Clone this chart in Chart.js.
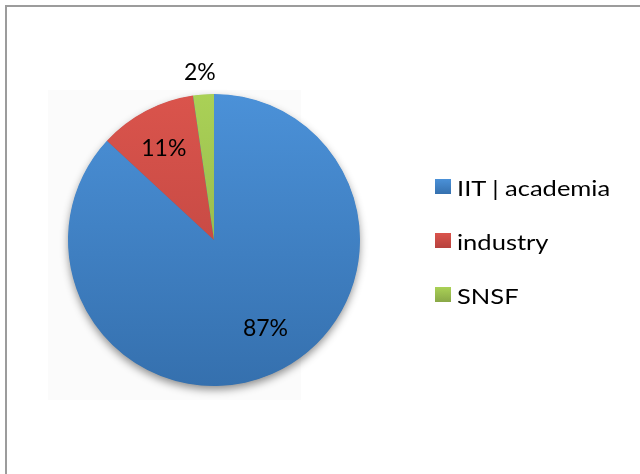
<!DOCTYPE html>
<html>
<head>
<meta charset="utf-8">
<script src="https://cdn.jsdelivr.net/npm/chart.js@4/dist/chart.umd.min.js"></script>
<style>
  html, body { margin:0; padding:0; background:#fff; }
  #wrap { position:relative; width:640px; height:474px; overflow:hidden; background:#fff; }
  #frame { position:absolute; left:5px; top:5px; width:700px; height:600px; border:2px solid #9c9c9c; box-sizing:border-box; }
  #plotbg { position:absolute; left:48px; top:90px; width:253px; height:310px; background:#fbfbfb; }
  canvas { position:absolute; left:0; top:0; }
  #legend { position:absolute; left:435px; top:0; font-family:Lato, "Open Sans", sans-serif; font-size:22px; color:#000; }
  .item { position:absolute; left:0; white-space:nowrap; }
  .sw { position:absolute; left:0; width:16px; height:15px; }
  .lt { position:absolute; left:22px; line-height:1; transform:scaleX(1.16); transform-origin:0 0; }
</style>
</head>
<body>
<div id="wrap">
  <div id="frame"></div>
  <div id="plotbg"></div>
  <canvas id="c" width="640" height="474"></canvas>
  <div id="legend"></div>
</div>
<script>
const categories = ["IIT | academia", "industry", "SNSF"];
const values = [86.9, 10.8, 2.3];
const topColors = ["#4b91d8", "#da544c", "#aad156"];
const bottomColors = ["#3570ae", "#b7423e", "#89a847"];

const canvas = document.getElementById('c');

function gradFor(ctx, i) {
  const chart = ctx.chart;
  const area = chart.chartArea;
  if (!area) return topColors[i];
  const g = chart.ctx.createLinearGradient(0, area.top, 0, area.bottom);
  g.addColorStop(0, topColors[i]);
  g.addColorStop(1, bottomColors[i]);
  return g;
}

const shadowPlugin = {
  id: 'pieShadow',
  beforeDatasetsDraw(chart) {
    const meta = chart.getDatasetMeta(0);
    if (!meta.data.length) return;
    const a = meta.data[0];
    const ctx = chart.ctx;
    ctx.save();
    ctx.shadowColor = 'rgba(0,0,0,0.45)';
    ctx.shadowBlur = 9;
    ctx.shadowOffsetX = 0;
    ctx.shadowOffsetY = 4;
    ctx.fillStyle = '#3570ae';
    ctx.beginPath();
    ctx.arc(a.x, a.y, a.outerRadius - 0.5, 0, Math.PI * 2);
    ctx.fill();
    ctx.restore();
  }
};

// small style nudges for label placement (Excel best-fit look)
const labelNudge = [[10, -6], [-2, 0], [-2, 1]];

const labelPlugin = {
  id: 'pctLabels',
  afterDatasetsDraw(chart) {
    const meta = chart.getDatasetMeta(0);
    const total = values.reduce((s, v) => s + v, 0);
    const ctx = chart.ctx;
    ctx.save();
    ctx.font = '23px Lato, "Open Sans", sans-serif';
    ctx.fillStyle = '#000';
    ctx.textAlign = 'center';
    ctx.textBaseline = 'middle';
    meta.data.forEach((arc, i) => {
      const frac = values[i] / total;
      const mid = (arc.startAngle + arc.endAngle) / 2;
      const r = frac < 0.05 ? arc.outerRadius * 1.155 : arc.outerRadius * 0.71;
      const x = arc.x + Math.cos(mid) * r + labelNudge[i][0];
      const y = arc.y + Math.sin(mid) * r + labelNudge[i][1];
      ctx.fillText(Math.round(frac * 100) + '%', x, y);
    });
    ctx.restore();
  }
};

new Chart(canvas, {
  type: 'pie',
  data: {
    labels: categories,
    datasets: [{
      data: values,
      backgroundColor: (ctx) => gradFor(ctx, ctx.dataIndex),
      borderWidth: 0
    }]
  },
  options: {
    responsive: false,
    animation: false,
    layout: { padding: { left: 68, top: 94, right: 280, bottom: 88 } },
    plugins: {
      legend: { display: false },
      tooltip: { enabled: false }
    }
  },
  plugins: [shadowPlugin, labelPlugin]
});

// HTML legend built from the same arrays
const legend = document.getElementById('legend');
const rowTops = [179, 233, 287];
categories.forEach((name, i) => {
  const item = document.createElement('div');
  item.className = 'item';
  item.style.top = rowTops[i] + 'px';
  const sw = document.createElement('div');
  sw.className = 'sw';
  sw.style.background = 'linear-gradient(' + topColors[i] + ',' + bottomColors[i] + ')';
  const lt = document.createElement('div');
  lt.className = 'lt';
  lt.style.top = '-2px';
  lt.textContent = name;
  item.appendChild(sw);
  item.appendChild(lt);
  legend.appendChild(item);
});
</script>
</body>
</html>
